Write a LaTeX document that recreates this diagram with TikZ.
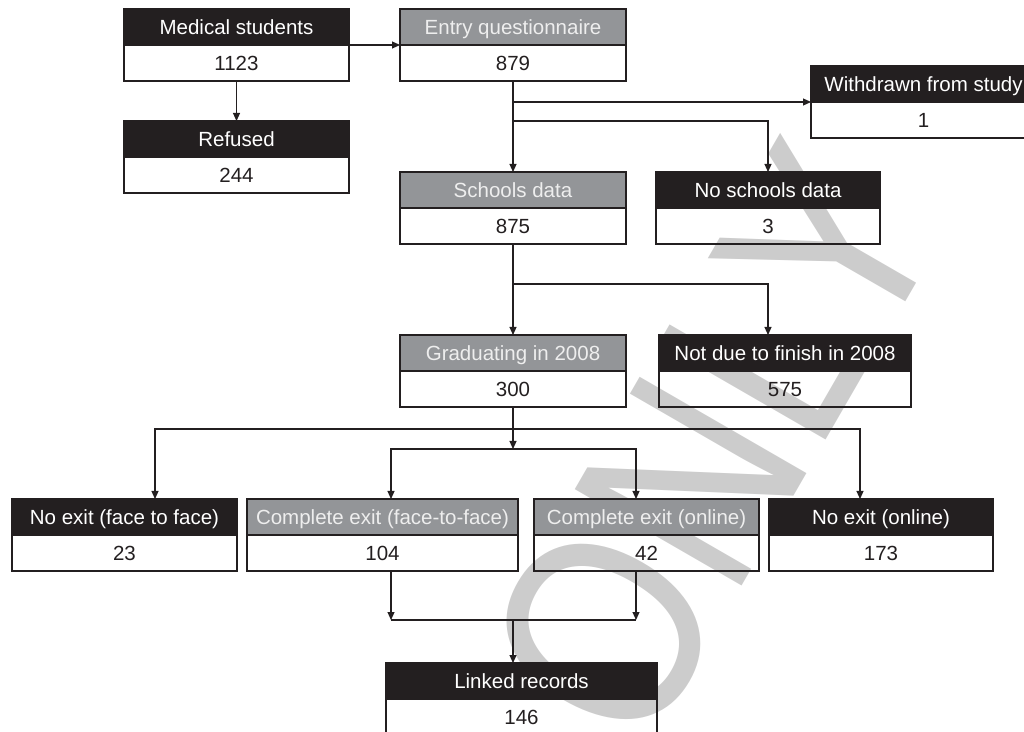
\documentclass[tikz,border=0pt]{standalone}
\usepackage{fontspec}
\setmainfont{Liberation Sans}
\usetikzlibrary{arrows.meta,positioning}
\definecolor{ink}{RGB}{35,31,32}
\definecolor{midgrey}{RGB}{147,149,152}
\definecolor{paleink}{RGB}{238,238,238}
\definecolor{wmgrey}{RGB}{204,204,204}
\newcommand{\boxfont}{\fontsize{20.5}{24}\selectfont}
\tikzset{
  head/.style={rectangle, draw=ink, line width=1.1pt, minimum height=36pt,
               inner sep=0pt, outer sep=0pt, text height=14.5pt, text depth=0pt,
               font=\boxfont},
  dark/.style={head, fill=ink, text=white},
  grey/.style={head, fill=midgrey, text=paleink},
  cnt/.style={head, text=ink},
  bw/.style={minimum width=#1pt},
  arr/.style={-{Triangle[length=8pt,width=7pt]}, line width=1.1pt, color=ink},
  wire/.style={line width=1.1pt, color=ink},
}
\begin{document}
\begin{tikzpicture}[x=1pt, y=1pt]
    \useasboundingbox (0,0) rectangle (1024,731);
    % watermark behind the boxes
    \node[text=wmgrey, rotate=60, xscale=0.83, font=\fontsize{280}{280}\selectfont] (wm) at (713,287) {ONLY};

    \node[dark, bw=225, anchor=north west] (med) at (124,722) {Medical students};
    \node[cnt,  bw=225, below=0pt of med]   (medn)   {1123};
    \node[dark, bw=225, below=40pt of medn] (ref)    {Refused};
    \node[cnt,  bw=225, below=0pt of ref]   (refn)   {244};
    \node[grey, bw=226, right=51pt of med]  (entry)  {Entry questionnaire};
    \node[cnt,  bw=226, below=0pt of entry] (entryn) {879};
    \node[dark, bw=225, anchor=north west] (wd) at (811,665) {Withdrawn from study};
    \node[cnt,  bw=225, below=0pt of wd]    (wdn)    {1};

    \node[grey, bw=226, below=91pt of entryn] (sch)   {Schools data};
    \node[cnt,  bw=226, below=0pt of sch]     (schn)  {875};
    \node[dark, bw=224, right=30pt of sch]    (nosch) {No schools data};
    \node[cnt,  bw=224, below=0pt of nosch]   (noschn) {3};

    \node[grey, bw=226, below=91pt of schn]  (grad)    {Graduating in 2008};
    \node[cnt,  bw=226, below=0pt of grad]   (gradn)   {300};
    \node[dark, bw=252, right=33pt of grad]  (notdue)  {Not due to finish in 2008};
    \node[cnt,  bw=252, below=0pt of notdue] (notduen) {575};

    \node[dark, bw=225, anchor=north west] (noexf) at (12,232) {No exit (face to face)};
    \node[cnt,  bw=225, below=0pt of noexf] (noexfn) {23};
    \node[grey, bw=271, right=10pt of noexf] (cexf)  {Complete exit (face-to-face)};
    \node[cnt,  bw=271, below=0pt of cexf]  (cexfn)  {104};
    \node[grey, bw=225, right=16pt of cexf] (cexo)   {Complete exit (online)};
    \node[cnt,  bw=225, below=0pt of cexo]  (cexon)  {42};
    \node[dark, bw=224, right=10pt of cexo] (noexo)  {No exit (online)};
    \node[cnt,  bw=224, below=0pt of noexo] (noexon) {173};

    \node[dark, bw=271, anchor=north west] (linked) at (386,68) {Linked records};
    \node[cnt,  bw=271, below=0pt of linked] (linkedn) {146};

    \draw[arr] (med.south east) -- (entry.south west);
    \draw[arr] (medn) -- (ref);
    \draw[arr] (entryn) -- (sch);
    \draw[arr] (entryn.south |- wd.south west) -- (wd.south west);
    \draw[arr] ([yshift=-40pt]entryn.south) -| (nosch);
    \draw[arr] (schn) -- (grad);
    \draw[arr] ([yshift=-40pt]schn.south) -| ([xshift=-17pt]notdue.north);

    \coordinate (wide) at ([yshift=-22pt]gradn.south);
    \coordinate (split) at ([yshift=-42pt]gradn.south);
    \draw[arr] (gradn) -- (split);
    \draw[arr] (wide) -| ([xshift=30.5pt]noexf.north);
    \draw[arr] (wide) -| ([xshift=-21pt]noexo.north);
    \draw[arr] (split) -| ([xshift=8.5pt]cexf.north);
    \draw[arr] (split) -| ([xshift=-10.5pt]cexo.north);

    \draw[arr] ([xshift=8.5pt]cexfn.south) -- ++(0,-49) coordinate (mleft);
    \draw[arr] ([xshift=-10.5pt]cexon.south) -- ++(0,-49) coordinate (mright);
    \draw[wire] (mleft) -- (mright);
    \draw[arr] (split |- mleft) -- ([xshift=-8.5pt]linked.north);
\end{tikzpicture}
\end{document}
